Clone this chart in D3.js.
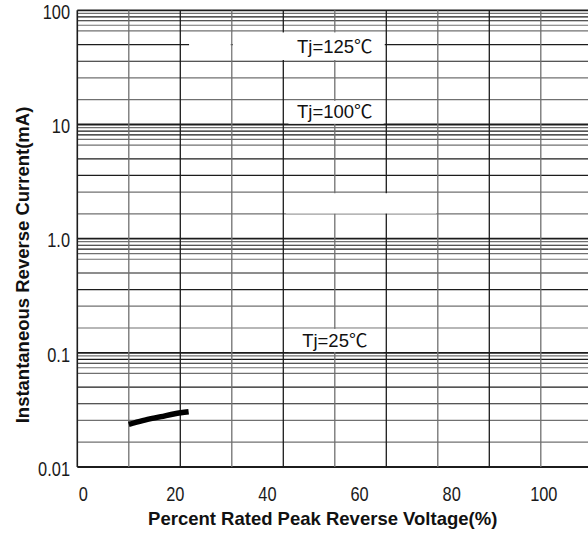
<!DOCTYPE html>
<html>
<head>
<meta charset="utf-8">
<script src="https://cdn.jsdelivr.net/npm/d3@7/dist/d3.min.js"></script>
<style>
  html, body { margin: 0; padding: 0; background: #fff; }
  svg { display: block; }
  .title { font-family: 'Liberation Sans', Arial, sans-serif; font-size: 18.5px; font-weight: bold; fill: #111; }
  .tj { font-family: 'Liberation Sans', Arial, 'Noto Sans CJK SC', sans-serif; font-size: 18.5px; fill: #111; }
</style>
</head>
<body>
<div class="chart"></div>
<script>
// curve (Tj=25C)
const voltage = [10, 13, 17, 20, 23];
const current = [0.0236, 0.0255, 0.0276, 0.0293, 0.0305];

const xTicks = [0, 20, 40, 60, 80, 100];
const yTicks = [0.01, 0.1, 1, 10, 100];
const yTickLabels = ['0.01', '0.1', '1.0', '10', '100'];

// minor grid steps inside each decade (as printed on the sheet)
const minorSteps = [1.65, 2.56, 3.58, 5, 6.6, 7.4, 8.1, 8.75, 9.4];
const decades = [0.01, 0.1, 1, 10];
const gridCols = 10;

const tjLabels = ['Tj=125\u2103', 'Tj=100\u2103', 'Tj=25\u2103'];
const tjLevels = [48.7, 13.1, 0.129];

const W = 588, H = 533;
const dark = '#1c1c1c', gray = '#707070';

const svg = d3.select('.chart').append('svg')
    .attr('width', W)
    .attr('height', H);

const xScale = d3.scaleLinear().domain([0, 100]).range([82.7, 543.3]);
const gridX = d3.scaleLinear().domain([0, gridCols]).range([77.3, 592.3]);
const yScale = d3.scaleLog().domain([0.01, 100]).range([467, 10.3]);

const grid = svg.append('g').attr('class', 'grid');

// horizontal minor lines
const minors = [];
decades.forEach(d => minorSteps.forEach((m, i) => minors.push({ v: d * m, i })));

grid.selectAll('line.minor')
    .data(minors)
    .enter()
    .append('line')
    .attr('class', 'minor')
    .attr('x1', gridX(0))
    .attr('x2', gridX(gridCols))
    .attr('y1', d => yScale(d.v))
    .attr('y2', d => yScale(d.v))
    .attr('stroke', d => (d.i % 4 < 2 ? gray : dark))
    .attr('stroke-width', 1.2);

// decade lines
grid.selectAll('line.major')
    .data(yTicks)
    .enter()
    .append('line')
    .attr('class', 'major')
    .attr('x1', gridX(0))
    .attr('x2', gridX(gridCols))
    .attr('y1', d => yScale(d))
    .attr('y2', d => yScale(d))
    .attr('stroke', dark)
    .attr('stroke-width', 1.8);

// vertical lines
grid.selectAll('line.col')
    .data(d3.range(0, gridCols + 1))
    .enter()
    .append('line')
    .attr('class', 'col')
    .attr('x1', d => gridX(d))
    .attr('x2', d => gridX(d))
    .attr('y1', yScale(100))
    .attr('y2', yScale(0.01))
    .attr('stroke', d => (d === 0 || d % 2 === 0 ? dark : gray))
    .attr('stroke-width', d => (d === 0 ? 1.6 : 1.3));

// white label boxes cut into the grid
const boxes = [
    { c0: 2.17, c1: 2.98, top: 64, bottom: 36.7 },
    { c0: 3.02, c1: 5.97, top: 64, bottom: 36.7 },
    { c0: 4.1, c1: 5.95, top: 16.1, bottom: 10.15 },
    { c0: 4.05, c1: 6.97, top: 2.5, bottom: 1.66 },
    { c0: 4.1, c1: 5.95, top: 0.162, bottom: 0.1015 }
];

grid.selectAll('rect.box')
    .data(boxes)
    .enter()
    .append('rect')
    .attr('class', 'box')
    .attr('x', d => gridX(d.c0))
    .attr('width', d => gridX(d.c1) - gridX(d.c0))
    .attr('y', d => yScale(d.top))
    .attr('height', d => yScale(d.bottom) - yScale(d.top))
    .attr('fill', '#fff');

svg.selectAll('text.tj')
    .data(tjLabels)
    .enter()
    .append('text')
    .attr('class', 'tj')
    .attr('x', gridX(5))
    .attr('y', (d, i) => yScale(tjLevels[i]))
    .attr('dy', '0.36em')
    .attr('text-anchor', 'middle')
    .text(d => d);

// curve
const line = d3.line()
    .x(d => xScale(d[0]))
    .y(d => yScale(d[1]))
    .curve(d3.curveCatmullRom);

svg.append('path')
    .datum(voltage.map((v, i) => [v, current[i]]))
    .attr('d', line)
    .attr('fill', 'none')
    .attr('stroke', '#000')
    .attr('stroke-width', 5.5);

// axes
const xAxis = d3.axisBottom(xScale).tickValues(xTicks).tickSize(0);
const yAxis = d3.axisLeft(yScale).tickValues(yTicks)
    .tickFormat((d, i) => yTickLabels[i]).tickSize(0);

const numFont = text => text
    .style('font-family', "'Liberation Sans', Arial, sans-serif")
    .style('font-size', '19.5px')
    .attr('fill', '#1a1a1a')
    .attr('transform', 'scale(0.84,1)');

const gx = svg.append('g')
    .attr('transform', 'translate(0,500.7)')
    .call(xAxis);
gx.selectAll('text')
    .attr('y', 0)
    .attr('dy', 0)
    .call(numFont);

const gy = svg.append('g')
    .attr('transform', 'translate(70,0)')
    .call(yAxis);
gy.selectAll('text')
    .attr('x', 0)
    .attr('dy', '0.42em')
    .call(numFont);

svg.selectAll('.domain').remove();

svg.append('text')
    .attr('class', 'title')
    .attr('x', 322.7)
    .attr('y', 525)
    .attr('text-anchor', 'middle')
    .text('Percent Rated Peak Reverse Voltage(%)');

svg.append('text')
    .attr('class', 'title')
    .attr('transform', 'translate(29.3,265) rotate(-90)')
    .attr('text-anchor', 'middle')
    .text('Instantaneous Reverse Current(mA)');
</script>
</body>
</html>
